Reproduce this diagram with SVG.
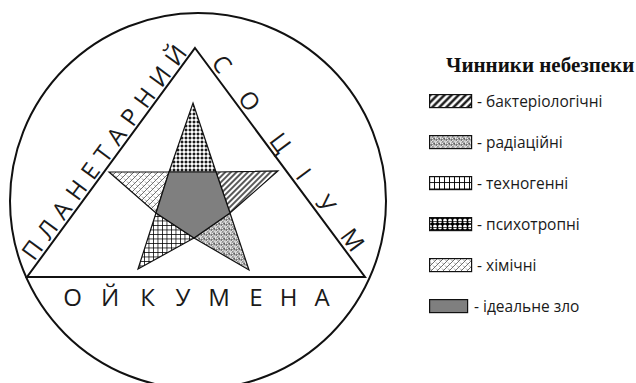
<svg xmlns="http://www.w3.org/2000/svg" width="636" height="383" viewBox="0 0 636 383">
  <style>
    .ln { fill: none; stroke: #111; stroke-width: 2; }
    .st { stroke: #111; stroke-width: 1.2; stroke-linejoin: miter; }
    .big { font-family: "Open Sans", "Noto Sans", "DejaVu Sans", sans-serif; font-size: 24px; font-weight: normal; fill: #1a1a1a; }
    .lg { font-family: "Open Sans", "Noto Sans", "DejaVu Sans", sans-serif; font-size: 15.5px; fill: #1a1a1a; }
    .ttl { font-family: "Liberation Serif", "Times New Roman", serif; font-size: 21px; font-weight: bold; fill: #111; }
    .sw { stroke: #111; stroke-width: 1.2; }
  </style>
  <defs>
    <pattern id="pBact" width="4" height="4" patternUnits="userSpaceOnUse" patternTransform="rotate(45)">
      <rect width="4" height="4" fill="#fff"/>
      <line x1="1" y1="0" x2="1" y2="4" stroke="#000" stroke-width="1.3"/>
    </pattern>
    <pattern id="pBactL" width="5" height="5" patternUnits="userSpaceOnUse" patternTransform="rotate(45)">
      <rect width="5" height="5" fill="#fff"/>
      <line x1="1.5" y1="0" x2="1.5" y2="5" stroke="#000" stroke-width="2.2"/>
    </pattern>
    <pattern id="pTech" width="4.5" height="4.5" patternUnits="userSpaceOnUse">
      <rect width="4.5" height="4.5" fill="#fff"/>
      <path d="M0 0.4H4.5M0.4 0V4.5" stroke="#000" stroke-width="0.8"/>
    </pattern>
    <pattern id="pTechL" width="5" height="6.5" patternUnits="userSpaceOnUse" x="429">
      <rect width="5" height="6.5" fill="#fff"/>
      <path d="M0 0.5H5M0.5 0V6.5" stroke="#000" stroke-width="0.9"/>
    </pattern>
    <pattern id="pPsy" width="4" height="4" patternUnits="userSpaceOnUse">
      <rect width="4" height="4" fill="#fff"/>
      <path d="M0 2H4M2 0V4" stroke="#000" stroke-width="0.6"/>
      <circle cx="2" cy="2" r="1.05" fill="#000"/>
    </pattern>
    <pattern id="pPsyL" width="5" height="6" patternUnits="userSpaceOnUse" x="430" y="95">
      <rect width="5" height="6" fill="#fff"/>
      <path d="M0 3H5M2.5 0V6" stroke="#000" stroke-width="1.4"/>
      <circle cx="2.5" cy="3" r="1.7" fill="#000"/>
      <path d="M0 0H5" stroke="#000" stroke-width="1.4"/>
    </pattern>
    <pattern id="pRad" width="5" height="5" patternUnits="userSpaceOnUse">
      <rect width="5" height="5" fill="#fff"/>
      <g fill="none" stroke="#111" stroke-width="0.75">
        <path d="M0.3 1q0.9 -0.9 1.8 0"/>
        <path d="M2.8 0.5q0.6 1 1.8 0.4"/>
        <path d="M0.8 2.8q1 0.8 1.6 -0.4"/>
        <path d="M3 2.5q0.5 1 1.8 0.4"/>
        <path d="M0.4 4.3q0.9 0.9 2 0.1"/>
        <path d="M2.7 4.3q1 -0.8 2.2 0.3"/>
      </g>
      <circle cx="2.4" cy="1.7" r="0.45" fill="#111"/>
      <circle cx="4.6" cy="3.6" r="0.45" fill="#111"/>
      <circle cx="1.9" cy="4.8" r="0.4" fill="#111"/>
    </pattern>
    <pattern id="pChem" width="6" height="6" patternUnits="userSpaceOnUse">
      <rect width="6" height="6" fill="#fff"/>
      <path d="M0 6L6 0M-1 1L1 -1M5 7L7 5" stroke="#333" stroke-width="0.7"/>
      <path d="M1 1.5L2.5 3M4 4.5L5.5 6" stroke="#555" stroke-width="0.6"/>
    </pattern>
  </defs>

  <g id="circle-oikumena">
    <circle class="ln" cx="198" cy="201" r="188"/>
  </g>

  <g id="triangle-socium">
    <polygon class="ln" points="195,48 365,277 27,277" stroke-linejoin="miter"/>
  </g>

  <g id="label-planetary" transform="translate(34,262) rotate(-53.6)">
    <text class="big" x="0" y="0" letter-spacing="8.2">ПЛАНЕТАРНИЙ</text>
  </g>

  <g id="label-socium" transform="translate(197.8,45.9) rotate(53.4)">
    <text class="big" text-anchor="middle" y="0" x="29 75 127 166 203 248">СОЦІУМ</text>
  </g>

  <g id="label-oikumena">
    <text class="big" text-anchor="middle" y="306" x="72.5 110 147.5 183 219 256 288.5 322">ОЙКУМЕНА</text>
  </g>

  <g id="star">
    <g id="arm-psychotropic"><polygon class="st" fill="url(#pPsy)" points="193,103 216,172 169,172"/></g>
    <g id="arm-bacteriological"><polygon class="st" fill="url(#pBact)" points="216,172 278,171 230,213"/></g>
    <g id="arm-radiation"><polygon class="st" fill="url(#pRad)" points="230,213 249,270 194,238"/></g>
    <g id="arm-technogenic"><polygon class="st" fill="url(#pTech)" points="194,238 138,269 156,213"/></g>
    <g id="arm-chemical"><polygon class="st" fill="url(#pChem)" points="156,213 109,172 169,172"/></g>
    <g id="core-ideal-evil"><polygon class="st" fill="#7f7f7f" points="169,172 216,172 230,213 194,238 156,213"/></g>
  </g>

  <g id="legend">
    <g id="legend-title"><text class="ttl" x="446" y="72">Чинники небезпеки</text></g>
    <g id="legend-bact">
      <rect class="sw" x="429.6" y="94.6" width="42" height="13" fill="url(#pBactL)"/>
      <text class="lg" x="477" y="107">- бактеріологічні</text>
    </g>
    <g id="legend-rad">
      <rect class="sw" x="429.6" y="135.6" width="42" height="13" fill="url(#pRad)"/>
      <text class="lg" x="477" y="148">- радіаційні</text>
    </g>
    <g id="legend-tech">
      <rect class="sw" x="429.6" y="176.6" width="42" height="13" fill="url(#pTechL)"/>
      <text class="lg" x="477" y="189">- техногенні</text>
    </g>
    <g id="legend-psy">
      <rect class="sw" x="429.6" y="217.6" width="42" height="13" fill="url(#pPsyL)"/>
      <text class="lg" x="477" y="230">- психотропні</text>
    </g>
    <g id="legend-chem">
      <rect class="sw" x="429.6" y="258.6" width="42" height="13" fill="url(#pChem)"/>
      <text class="lg" x="477" y="271">- хімічні</text>
    </g>
    <g id="legend-evil">
      <rect class="sw" x="429.6" y="299.6" width="38" height="13" fill="#7f7f7f"/>
      <text class="lg" x="474" y="312">- ідеальне зло</text>
    </g>
  </g>

  <g id="connectors"/>
</svg>
